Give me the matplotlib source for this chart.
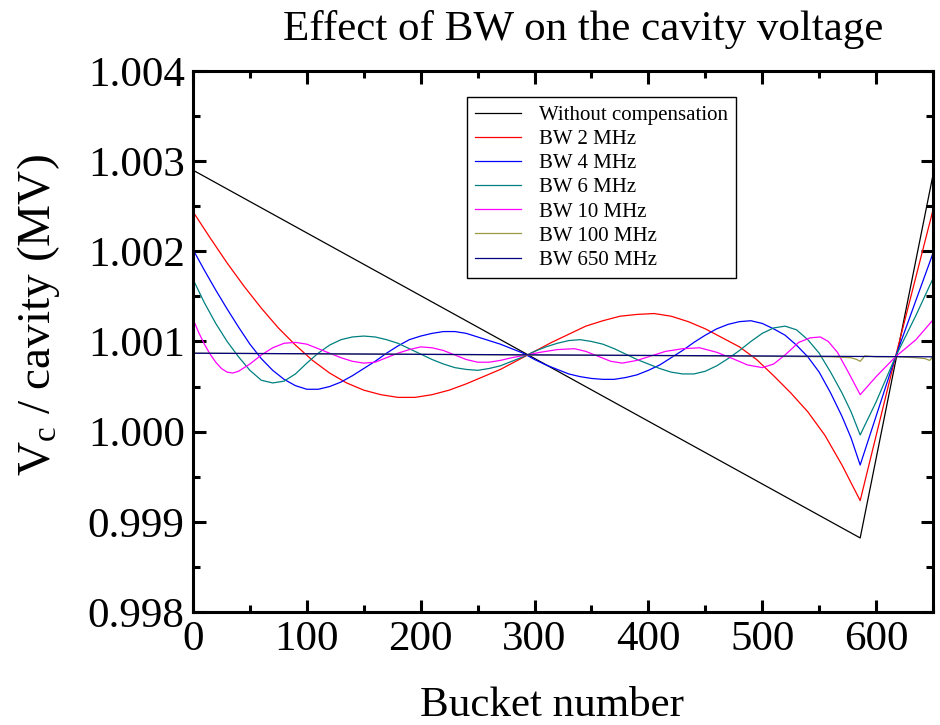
import matplotlib
matplotlib.use('Agg')
import matplotlib.pyplot as plt
from matplotlib.ticker import MultipleLocator, FormatStrFormatter

plt.rcParams['font.family'] = ['Liberation Serif', 'DejaVu Serif']
plt.rcParams['mathtext.fontset'] = 'custom'
plt.rcParams['mathtext.rm'] = 'Liberation Serif'
plt.rcParams['mathtext.it'] = 'Liberation Serif'

# Values (bucket number, Vc in MV)
x_nocomp = [0, 586, 650]
y_nocomp = [1.00290, 0.998821, 1.00285]

x_bw2 = [0, 15, 30, 45, 60, 75, 90, 105, 120, 135, 150, 165, 180, 195, 210, 225,
         240, 255, 270, 285, 300, 315, 330, 345, 360, 375, 390, 405, 420, 435,
         450, 465, 480, 495, 510, 525, 540, 555, 570, 586, 617, 650]
y_bw2 = [1.00244, 1.00215, 1.00187, 1.00161, 1.00137, 1.00115, 1.00096, 1.00079,
         1.00065, 1.00054, 1.00046, 1.00041, 1.00038, 1.00038, 1.00041, 1.00046,
         1.00053, 1.00061, 1.00069, 1.00079, 1.00089, 1.00099, 1.00108, 1.00117,
         1.00123, 1.00128, 1.00130, 1.00131, 1.00128, 1.00122, 1.00114, 1.00104,
         1.00094, 1.00080, 1.00062, 1.00043, 1.00022, 0.99996, 0.99963, 0.999235,
         1.00083, 1.00246]

x_bw4 = [0, 10, 20, 30, 40, 50, 60, 70, 80, 90, 100, 110, 120, 130, 140, 150,
         160, 170, 180, 190, 200, 210, 220, 230, 240, 250, 260, 270, 280, 290,
         300, 310, 320, 330, 340, 350, 360, 370, 380, 390, 400, 410, 420, 430,
         440, 450, 460, 470, 480, 490, 500, 510, 520, 530, 540, 550, 560, 570,
         578, 586, 617, 650]
y_bw4 = [1.00202, 1.00179, 1.00157, 1.00136, 1.00116, 1.00097, 1.00081, 1.00068,
         1.00058, 1.00051, 1.00047, 1.00047, 1.00050, 1.00055, 1.00062, 1.00070,
         1.00078, 1.00087, 1.00095, 1.00102, 1.00106, 1.00109, 1.00111, 1.00111,
         1.00109, 1.00105, 1.00101, 1.00097, 1.00092, 1.00087, 1.00080, 1.00074,
         1.00069, 1.00064, 1.00061, 1.00059, 1.00058, 1.00058, 1.00060, 1.00063,
         1.00068, 1.00074, 1.00082, 1.00090, 1.00099, 1.00107, 1.00114, 1.00119,
         1.00122, 1.00123, 1.00120, 1.00114, 1.00107, 1.00096, 1.00083, 1.00066,
         1.00043, 1.00017, 0.99993, 0.99963, 1.00083, 1.00198]

x_bw6 = [0, 10, 20, 30, 40, 50, 60, 70, 80, 90, 100, 110, 120, 130, 140, 150,
         160, 170, 180, 190, 200, 210, 220, 230, 240, 250, 260, 270, 280, 290,
         300, 310, 320, 330, 340, 350, 360, 370, 380, 390, 400, 410, 420, 430,
         440, 450, 460, 470, 480, 490, 500, 510, 520, 530, 540, 550, 560, 570,
         578, 586, 600, 617, 635, 650]
y_bw6 = [1.00169, 1.00143, 1.00120, 1.00100, 1.00083, 1.00068, 1.00057, 1.00054,
         1.00056, 1.00064, 1.00076, 1.00087, 1.00096, 1.00102, 1.00105, 1.00106,
         1.00105, 1.00102, 1.00098, 1.00092, 1.00086, 1.00080, 1.00075, 1.00071,
         1.00069, 1.00068, 1.00070, 1.00073, 1.00078, 1.00083, 1.00089, 1.00094,
         1.00098, 1.00101, 1.00102, 1.00100, 1.00097, 1.00092, 1.00086, 1.00080,
         1.00075, 1.00070, 1.00066, 1.00064, 1.00064, 1.00067, 1.00073, 1.00081,
         1.00090, 1.00100, 1.00109, 1.00115, 1.00117, 1.00113, 1.00102, 1.00087,
         1.00066, 1.00043, 1.00022, 0.999963, 1.00033, 1.00083, 1.00129, 1.00170]

x_bw10 = [0, 5, 10, 15, 20, 25, 30, 35, 40, 50, 60, 70, 80, 90, 100, 110, 120,
          130, 140, 150, 160, 170, 180, 190, 200, 210, 220, 230, 240, 250, 260,
          270, 280, 293, 305, 320, 335, 345, 357, 367, 377, 390, 400, 415, 430,
          445, 460, 474, 487, 500, 510, 520, 532, 542, 551, 558, 566, 576, 586,
          600, 617, 635, 650]
y_bw10 = [1.00125, 1.00110, 1.00097, 1.00086, 1.00077, 1.00070, 1.00066, 1.00065,
          1.00067, 1.00075, 1.00085, 1.00093, 1.00098, 1.00099, 1.00097, 1.00092,
          1.00087, 1.00082, 1.00078, 1.00076, 1.00077, 1.00082, 1.00087, 1.00091,
          1.00094, 1.00093, 1.00090, 1.00085, 1.00080, 1.00077, 1.00077, 1.00079,
          1.00082, 1.00085, 1.00088, 1.00091, 1.00092, 1.00089, 1.00083, 1.00078,
          1.00076, 1.00079, 1.00083, 1.00089, 1.00092, 1.00093, 1.00088, 1.00081,
          1.00074, 1.00071, 1.00075, 1.00085, 1.00099, 1.00104, 1.00105, 1.00100,
          1.00088, 1.00065, 1.00041, 1.00061, 1.00083, 1.00102, 1.00124]

x_bw100 = [0, 150, 290, 450, 560, 578, 583, 586, 590, 600, 617, 635, 643, 647, 650]
y_bw100 = [1.00087, 1.00086, 1.00085, 1.00084, 1.00083, 1.00082, 1.00080, 1.00078,
           1.00084, 1.00083, 1.00083, 1.00082, 1.00081, 1.00079, 1.00083]

x_bw650 = [0, 650]
y_bw650 = [1.00087, 1.00083]

series = [
    (x_nocomp, y_nocomp, 'black', 'Without compensation'),
    (x_bw2, y_bw2, 'red', 'BW 2 MHz'),
    (x_bw4, y_bw4, 'blue', 'BW 4 MHz'),
    (x_bw6, y_bw6, '#008080', 'BW 6 MHz'),
    (x_bw10, y_bw10, 'magenta', 'BW 10 MHz'),
    (x_bw100, y_bw100, '#9a9a40', 'BW 100 MHz'),
    (x_bw650, y_bw650, '#000080', 'BW 650 MHz'),
]

fig = plt.figure(figsize=(9.4, 7.25), dpi=100)
ax = fig.add_axes([0.2053, 0.1559, 0.7873, 0.7462])

for xs, ys, col, lab in series:
    ax.plot(xs, ys, color=col, lw=0.9, label=lab)

ax.set_xlim(0, 650)
ax.set_ylim(0.998, 1.004)
ax.xaxis.set_major_locator(MultipleLocator(100))
ax.xaxis.set_minor_locator(MultipleLocator(50))
ax.yaxis.set_major_locator(MultipleLocator(0.001))
ax.yaxis.set_minor_locator(MultipleLocator(0.0005))
ax.yaxis.set_major_formatter(FormatStrFormatter('%.3f'))

ax.tick_params(which='both', direction='in', top=True, right=True, width=2.2)
ax.tick_params(which='major', length=9, labelsize=31, pad=6)
ax.tick_params(which='minor', length=5)
for sp in ax.spines.values():
    sp.set_linewidth(2.2)

ax.set_title('Effect of BW on the cavity voltage', fontsize=31, pad=22, x=0.527)
ax.set_xlabel('Bucket number', fontsize=31, labelpad=20, x=0.485)
ax.set_ylabel(r'V$_{\mathrm{c}}$ / cavity (MV)', fontsize=34)
ax.yaxis.set_label_coords(-0.177, 0.548)

leg = ax.legend(loc='upper left', bbox_to_anchor=(0.37, 0.952), borderaxespad=0,
                fontsize=15, handlelength=2.2, handletextpad=0.85,
                labelspacing=0.22, fancybox=False, framealpha=1,
                edgecolor='black', borderpad=0.4)
leg.get_frame().set_linewidth(1.0)

fig.savefig('out.png', dpi=100)
